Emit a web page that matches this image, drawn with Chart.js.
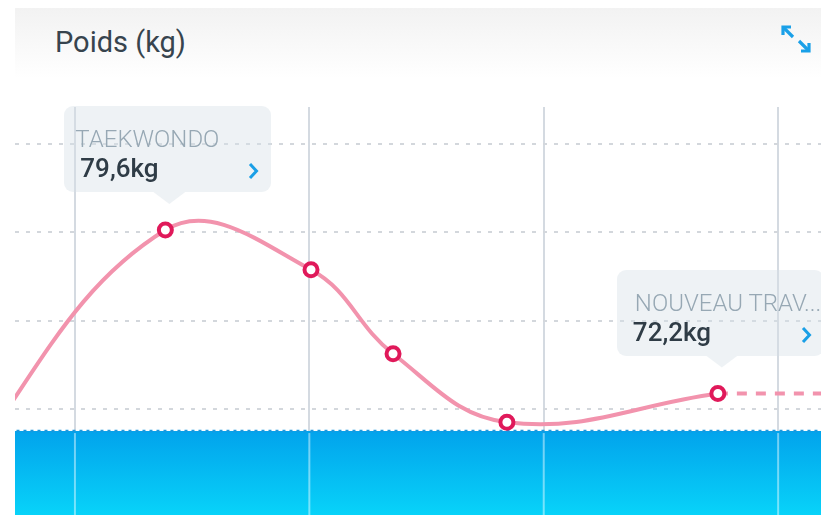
<!DOCTYPE html>
<html>
<head>
<meta charset="utf-8">
<script src="https://cdn.jsdelivr.net/npm/chart.js@4"></script>
<style>
  html, body { margin: 0; padding: 0; background: #fff; }
  body { width: 821px; height: 515px; position: relative; overflow: hidden; font-family: Roboto, sans-serif; }
  .header { position: absolute; left: 15px; top: 8px; width: 806px; height: 70px;
            background: linear-gradient(#f2f2f2, #ffffff); }
  .title { position: absolute; left: 55px; top: 28px; font-size: 29px; line-height: 1; color: #37444e; }
  .expand { position: absolute; left: 780px; top: 24px; }
  #chart { position: absolute; left: 0; top: 0; }
  .tip { position: absolute; width: 207px; height: 86px; border-radius: 9px;
         background: rgba(214, 224, 232, 0.42); }
  .tip-arrow { position: absolute; width: 32px; height: 12px;
               background: rgba(214, 224, 232, 0.42); clip-path: polygon(0 0, 100% 0, 50% 100%); }
  .tip .lbl { position: absolute; top: 21px; font-size: 24px; font-weight: 300; line-height: 1;
              color: #97a8b4; white-space: nowrap; }
  .tip .val { position: absolute; left: 16px; top: 49px; font-size: 26px; font-weight: 500; line-height: 1;
              color: #2f3c46; white-space: nowrap; }
  .tip svg { position: absolute; right: 12px; top: 56px; }
</style>
</head>
<body>
<div class="header"></div>
<div class="title">Poids (kg)</div>
<svg class="expand" width="32" height="30" viewBox="0 0 32 30">
  <g fill="none" stroke="#1aa0e8" stroke-width="3.2">
    <path d="M4 4 L13 13"/><path d="M3 11 L3 3 L11 3"/>
    <path d="M19 17 L28 26"/><path d="M21 27 L29 27 L29 19"/>
  </g>
</svg>
<canvas id="chart" width="821" height="515"></canvas>

<script>
// x = jours, grilles verticales chaque semaine
const weekTicks = [0, 7, 14, 21]
const weightTicks = [71.5, 75.5, 79.5, 83.5]

const days = [-4, 2.7, 7.05, 9.5, 12.9, 19.2]
const weights = [67.4, 79.6, 77.8, 74.0, 70.9, 72.2]
const projectionDays = [19.2, 24]
const projectionWeights = [72.2, 72.2]
const goalDays = [-3, 24]
const goalWeights = [70.5, 70.5]

const tips = [
    {index: 1, label: 'TAEKWONDO', value: '79,6kg', labelLeft: 11},
    {index: 5, label: 'NOUVEAU TRAV...', value: '72,2kg', labelLeft: 18}
]

const pink = '#f293ad'
const crimson = '#e0195a'

const toPoints = (xs, ys) => xs.map((x, i) => ({x: x, y: ys[i]}))

// lignes claires par-dessus la zone bleue
const goalGrid = {
    id: 'goalGrid',
    afterDatasetDraw(chart, args) {
        if (args.index !== 2) return
        const ctx = chart.ctx
        const top = chart.scales.y.getPixelForValue(goalWeights[0])
        ctx.save()
        ctx.strokeStyle = 'rgba(255,255,255,0.45)'
        ctx.lineWidth = 2
        weekTicks.forEach(t => {
            const x = chart.scales.x.getPixelForValue(t)
            ctx.beginPath()
            ctx.moveTo(x, top + 2)
            ctx.lineTo(x, chart.chartArea.bottom)
            ctx.stroke()
        })
        ctx.restore()
    }
}

const tipsPlugin = {
    id: 'tips',
    afterRender(chart) {
        if (chart._tipsDone) return
        chart._tipsDone = true
        const meta = chart.getDatasetMeta(0)
        tips.forEach(t => {
            const p = meta.data[t.index]
            const box = document.createElement('div')
            box.className = 'tip'
            box.style.left = (p.x - 101) + 'px'
            box.style.top = (p.y - 124) + 'px'
            box.innerHTML = '<span class="lbl" style="left:' + t.labelLeft + 'px">' + t.label + '</span>' +
                '<span class="val">' + t.value + '</span>' +
                '<svg width="12" height="18" viewBox="0 0 12 18"><path d="M3 2 L9.5 9 L3 16" fill="none" stroke="#1a9fe6" stroke-width="3"/></svg>'
            document.body.appendChild(box)
            const arrow = document.createElement('div')
            arrow.className = 'tip-arrow'
            arrow.style.left = (p.x + 4 - 16) + 'px'
            arrow.style.top = (p.y - 38) + 'px'
            document.body.appendChild(arrow)
        })
    }
}

const ctx = document.getElementById('chart').getContext('2d')
const chart = new Chart(ctx, {
    type: 'line',
    data: {
        datasets: [{
            data: toPoints(days, weights),
            borderColor: pink,
            borderWidth: 4,
            tension: 0.4,
            pointRadius: days.map((d, i) => i === 0 ? 0 : 6.5),
            pointBorderWidth: 4,
            pointBorderColor: crimson,
            pointBackgroundColor: '#fff',
            order: 0
        }, {
            data: toPoints(projectionDays, projectionWeights),
            borderColor: pink,
            borderWidth: 4,
            borderDash: [10, 9],
            pointRadius: 0,
            tension: 0,
            order: 1
        }, {
            data: toPoints(goalDays, goalWeights),
            borderColor: '#1b97dd',
            borderWidth: 2.5,
            borderDash: [3, 4],
            pointRadius: 0,
            fill: 'start',
            backgroundColor: c => {
                const a = c.chart.chartArea
                if (!a) return '#03a8ee'
                const top = c.chart.scales.y.getPixelForValue(goalWeights[0])
                const g = c.chart.ctx.createLinearGradient(0, top, 0, a.bottom)
                g.addColorStop(0, '#02a3ec')
                g.addColorStop(1, '#08d3f9')
                return g
            },
            order: 2
        }]
    },
    options: {
        responsive: false,
        animation: false,
        events: [],
        layout: {autoPadding: false, padding: {left: 15, top: 107, right: 0, bottom: 0}},
        plugins: {legend: {display: false}, tooltip: {enabled: false}},
        scales: {
            x: {
                type: 'linear', min: -1.79, max: 22.28,
                afterBuildTicks: s => { s.ticks = weekTicks.map(v => ({value: v})) },
                afterFit: s => { s.height = 0 },
                ticks: {display: false},
                grid: {color: '#d4dae1', lineWidth: 2, drawTicks: false},
                border: {display: false}
            },
            y: {
                min: 66.7, max: 85.17,
                afterBuildTicks: s => { s.ticks = weightTicks.map(v => ({value: v})) },
                afterFit: s => { s.width = 0 },
                ticks: {display: false},
                grid: {color: '#d3d7dc', lineWidth: 2, drawTicks: false},
                border: {display: false, dash: [4, 7]}
            }
        }
    },
    plugins: [goalGrid, tipsPlugin]
})
</script>
</body>
</html>
